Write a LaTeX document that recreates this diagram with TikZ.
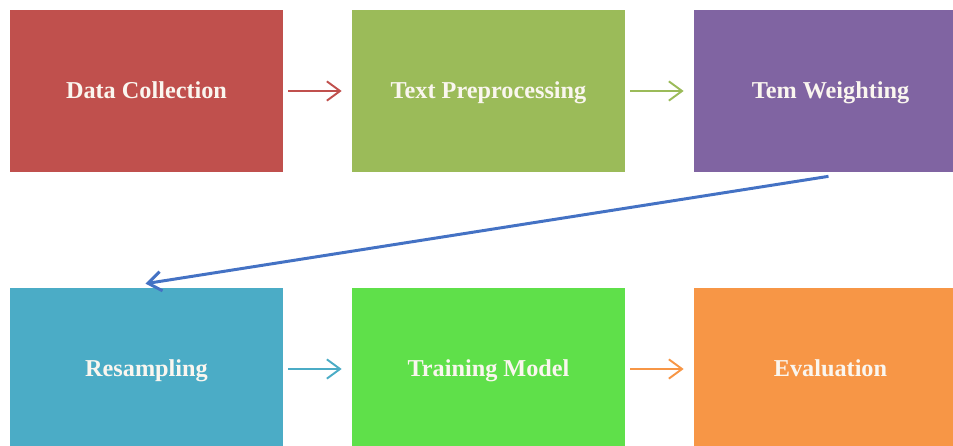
\documentclass[tikz,border=0pt]{standalone}
\usepackage{fontspec}
\setmainfont{Liberation Serif}
\usetikzlibrary{arrows.meta}

\definecolor{cred}{HTML}{C0504D}
\definecolor{cgreen}{HTML}{9BBB59}
\definecolor{cpurple}{HTML}{8064A2}
\definecolor{cteal}{HTML}{4BACC6}
\definecolor{clime}{HTML}{5FE04A}
\definecolor{corange}{HTML}{F79646}
\definecolor{ctext}{HTML}{FAF6EF}
\definecolor{cblue}{HTML}{4472C4}

\begin{document}
\begin{tikzpicture}[x=0.02cm, y=-0.02cm,
	stage/.style={minimum width=5.46cm, minimum height=3.24cm, inner sep=0pt,
		text height=2.1ex, text depth=0.3ex,
		text=ctext, font=\bfseries\fontsize{13.8}{16}\selectfont},
	flow/.style={-{Straight Barb[length=7.5pt, width=11pt]}, line width=1.1pt,
		shorten <=2.8pt, shorten >=5.7pt}]
	\useasboundingbox (0,0) rectangle (953,446);
	\clip (0,0) rectangle (953,446);
	% first row
	\node[stage, fill=cred] (dc) at (146.5,91) {Data Collection};
	\node[stage, fill=cgreen] (tp) at (488.5,91) {Text Preprocessing};
	\node[stage, fill=cpurple] (tw) at (830.5,91) {Tem Weighting};
	% second row
	\node[stage, fill=cteal] (rs) at (146.5,369) {Resampling};
	\node[stage, fill=clime] (tm) at (488.5,369) {Training Model};
	\node[stage, fill=corange] (ev) at (830.5,369) {Evaluation};
	\draw[flow, cred] (dc) -- (tp);
	\draw[flow, cgreen] (tp) -- (tw);
	\draw[flow, cteal] (rs) -- (tm);
	\draw[flow, corange] (tm) -- (ev);
	\draw[flow, cblue, line width=1.7pt, shorten <=0pt, shorten >=0pt]
		(tw.south) ++(-2,4) coordinate (twout)
		(rs.north) ++(-1,-4) coordinate (rsin)
		(twout) -- (rsin);
\end{tikzpicture}
\end{document}
